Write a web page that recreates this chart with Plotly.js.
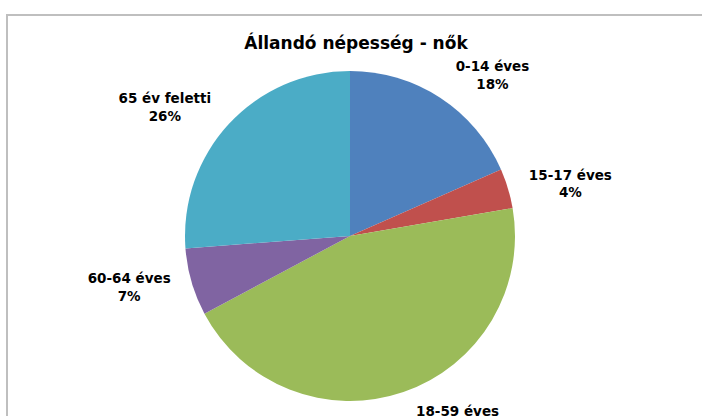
<!DOCTYPE html>
<html>
<head>
<meta charset="utf-8">
<script src="https://cdn.plot.ly/plotly-3.0.1.min.js"></script>
<style>
  html, body { margin: 0; padding: 0; background: #ffffff; }
  #chart { width: 702px; height: 416px; }
</style>
</head>
<body>
<div id="chart"></div>
<script>
const chartTitle = "Állandó népesség - nők";
const categories = ["0-14 éves", "15-17 éves", "18-59 éves", "60-64 éves", "65 év feletti"];
const shares = [18.4, 3.9, 44.9, 6.6, 26.2];
const sliceColors = ["#4F81BD", "#C0504D", "#9BBB59", "#8064A2", "#4BACC6"];

const FONT = "'DejaVu Sans', Lato, sans-serif";
const cx = 350, cy = 236, r = 165, rLabel = 178;
const W = 702, H = 416;

function dom(rad) {
  return {
    x: [(cx - rad) / W, (cx + rad) / W],
    y: [(H - cy - rad) / H, (H - cy + rad) / H]
  };
}

// visible slices
const slices = {
  type: "pie",
  labels: categories,
  values: shares,
  sort: false,
  direction: "clockwise",
  rotation: 0,
  marker: { colors: sliceColors, line: { width: 0 } },
  textinfo: "none",
  showlegend: false,
  automargin: false,
  domain: dom(r)
};

// same data, transparent, slightly larger: carries the outside data labels
const labelRing = {
  type: "pie",
  labels: categories,
  values: shares,
  sort: false,
  direction: "clockwise",
  rotation: 0,
  marker: { colors: categories.map(() => "rgba(0,0,0,0)"), line: { width: 0 } },
  textposition: "outside",
  texttemplate: "%{label}<br>%{percent:.0%}",
  outsidetextfont: { family: FONT, size: 13.5, color: "#000000", weight: "bold" },
  textfont: { family: FONT, size: 13.5, color: "#000000", weight: "bold" },
  showlegend: false,
  automargin: false,
  domain: dom(rLabel)
};

const layout = {
  width: W,
  height: H,
  margin: { l: 0, r: 0, t: 0, b: 0 },
  paper_bgcolor: "#ffffff",
  showlegend: false,
  title: {
    text: chartTitle,
    x: 356 / W,
    xanchor: "center",
    y: 1 - 43 / H,
    yanchor: "middle",
    font: { family: FONT, size: 17, color: "#000000", weight: "bold" }
  },
  shapes: [{
    type: "rect", xref: "paper", yref: "paper",
    x0: 7 / W, x1: 1.2, y0: -0.2, y1: 1 - 15 / H,
    line: { color: "#BFBFBF", width: 2 }, fillcolor: "rgba(0,0,0,0)", layer: "below"
  }]
};

Plotly.newPlot("chart", [slices, labelRing], layout, { displayModeBar: false, staticPlot: true });
</script>
</body>
</html>
